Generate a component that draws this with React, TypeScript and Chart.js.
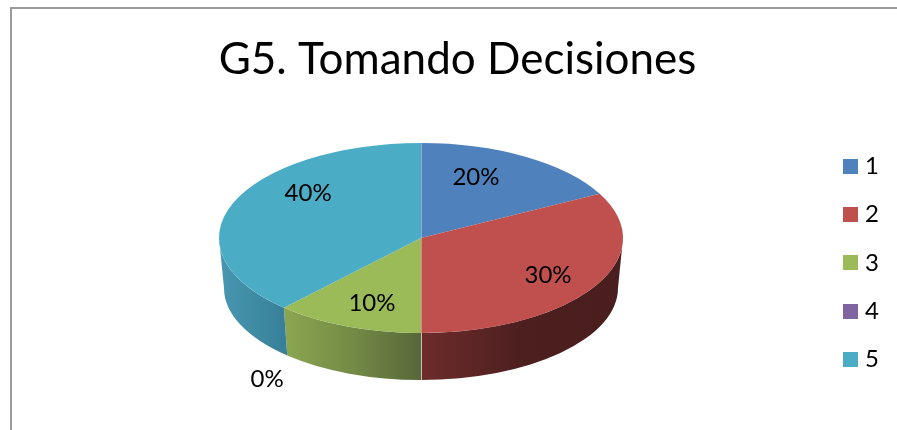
import React, { useEffect, useRef } from "react";
import { Chart, registerables } from "chart.js";

Chart.register(...registerables);

const categories = ["1", "2", "3", "4", "5"];
const shares = [20, 30, 10, 0, 40];
const sliceColors = ["#4F81BD", "#BF504D", "#9BBB59", "#8064A2", "#4BACC6"];
const wallLeftColors = ["#3b5f8c", "#6d2c2b", "#8ba651", "#5f4a79", "#4896b0"];
const wallMidColors = ["#3b5f8c", "#4d1f1f", "#748a45", "#5f4a79", "#408ca5"];
const wallRightColors = ["#3b5f8c", "#4a1e1e", "#56683a", "#5f4a79", "#38809a"];
const chartTitle = "G5. Tomando Decisiones";

// Label anchors, as fractions of the pie's radii from its centre.
const labelAnchors: [number, number][] = [
  [0.272, -0.642],
  [0.629, 0.389],
  [-0.243, 0.684],
  [-0.762, 1.484],
  [-0.559, -0.474],
];

const FONT = "Lato, Carlito, sans-serif";
const CX = 403; // canvas starts 18px in
const CY = 238;
const RX = 202;
const RY = 95;
const BOTTOM_CY = 288;
const BOTTOM_RX = 197;
const BOTTOM_RY = 92;
const PERSPECTIVE = 0.83;
const SWATCH = 15;

// Receding perspective of the tilted disc: tan(t'/2) = k tan(t/2), t measured from 12 o'clock.
const warp = (t: number) => {
  const turns = Math.round(t / (2 * Math.PI));
  const local = t - turns * 2 * Math.PI;
  if (Math.abs(Math.abs(local) - Math.PI) < 1e-9) return t;
  return 2 * Math.atan(PERSPECTIVE * Math.tan(local / 2)) + turns * 2 * Math.PI;
};

const swatch = (color: string) => {
  const c = document.createElement("canvas");
  c.width = SWATCH;
  c.height = SWATCH;
  const g = c.getContext("2d")!;
  g.fillStyle = color;
  g.fillRect(0, 0, SWATCH, SWATCH);
  return c;
};

const pie3d = {
  id: "pie3d",
  afterDatasetsUpdate(chart: any) {
    const meta = chart.getDatasetMeta(0);
    meta.data.forEach((arc: any) => {
      const s = warp(arc.startAngle + Math.PI / 2) - Math.PI / 2;
      const e = warp(arc.endAngle + Math.PI / 2) - Math.PI / 2;
      arc.startAngle = s;
      arc.endAngle = e;
      arc.circumference = e - s;
    });
  },
  beforeDatasetsDraw(chart: any) {
    const { ctx } = chart;
    const arcs = chart.getDatasetMeta(0).data;
    const wall = (from: number, to: number, i: number) => {
      const a = Math.max(from, 0);
      const b = Math.min(to, Math.PI);
      if (b <= a) return;
      const xa = CX + RX * Math.cos(a);
      const xb = CX + RX * Math.cos(b);
      const g = ctx.createLinearGradient(Math.min(xa, xb), 0, Math.max(xa, xb), 0);
      g.addColorStop(0, wallLeftColors[i]);
      g.addColorStop(0.5, wallMidColors[i]);
      g.addColorStop(1, wallRightColors[i]);
      ctx.beginPath();
      ctx.ellipse(CX, CY, RX, RY, 0, a, b, false);
      ctx.ellipse(CX, BOTTOM_CY, BOTTOM_RX, BOTTOM_RY, 0, b, a, true);
      ctx.closePath();
      ctx.fillStyle = g;
      ctx.fill();
    };
    arcs.forEach((arc: any, i: number) => {
      const s = arc.startAngle;
      const e = arc.endAngle;
      wall(s, e, i);
      if (s < Math.PI) return;
      wall(s - 2 * Math.PI, e - 2 * Math.PI, i);
    });
    ctx.save();
    ctx.strokeStyle = "rgba(235,235,225,0.75)";
    ctx.lineWidth = 1;
    ctx.beginPath();
    ctx.moveTo(CX + 0.5, CY + RY);
    ctx.lineTo(CX + 0.5, BOTTOM_CY + BOTTOM_RY);
    ctx.stroke();
    ctx.restore();

    const ref = arcs[0];
    ctx.save();
    ctx.translate(CX, CY);
    ctx.scale(1, RY / RX);
    ctx.translate(-ref.x, -ref.y);
  },
  afterDatasetsDraw(chart: any) {
    const { ctx } = chart;
    ctx.restore();
    ctx.save();
    ctx.strokeStyle = "rgba(255,255,255,0.35)";
    ctx.lineWidth = 1;
    ctx.beginPath();
    ctx.moveTo(CX + 0.5, CY - RY);
    ctx.lineTo(CX + 0.5, CY + RY);
    ctx.stroke();
    ctx.restore();
  },
  afterDraw(chart: any) {
    const { ctx } = chart;
    const total = shares.reduce((a, b) => a + b, 0);
    ctx.save();
    ctx.font = `24px ${FONT}`;
    ctx.fillStyle = "#000";
    ctx.textAlign = "center";
    ctx.textBaseline = "middle";
    shares.forEach((v, i) => {
      const [fx, fy] = labelAnchors[i];
      ctx.fillText(`${Math.round((v / total) * 100)}%`, CX + fx * RX, CY + fy * RY);
    });
    ctx.restore();
  },
};

export default function App() {
  const ref = useRef<HTMLCanvasElement>(null);
  useEffect(() => {
    const chart = new Chart(ref.current!, {
      type: "pie",
      data: {
        labels: categories,
        datasets: [
          {
            data: shares,
            backgroundColor: sliceColors,
            borderWidth: 0,
            radius: RX,
          } as any,
        ],
      },
      options: {
        responsive: false,
        animation: false,
        devicePixelRatio: 1,
        layout: { padding: { right: 8, top: 0, bottom: 0, left: 8 } },
        plugins: {
          tooltip: { enabled: false },
          title: {
            display: true,
            text: chartTitle,
            color: "#000",
            font: { family: FONT, size: 44, weight: "normal" },
            padding: { top: 33, bottom: 10 },
          },
          legend: {
            position: "right",
            fullSize: false,
            labels: {
              usePointStyle: true,
              pointStyleWidth: 5,
              boxHeight: 24,
              padding: 24.2,
              color: "#000",
              font: { family: FONT, size: 24 },
              generateLabels: () =>
                categories.map((text, i) => ({
                  text,
                  fontColor: "#000",
                  pointStyle: swatch(sliceColors[i]),
                  fillStyle: sliceColors[i],
                  strokeStyle: sliceColors[i],
                  lineWidth: 0,
                  hidden: false,
                  index: i,
                })),
            },
          },
        },
      },
      plugins: [pie3d],
    } as any);
    return () => chart.destroy();
  }, []);
  return (
    <div
      style={{
        position: "absolute",
        left: 0,
        top: 0,
        width: 897,
        height: 430,
        overflow: "hidden",
        background: "#fff",
      }}
    >
      <div
        style={{
          position: "absolute",
          left: 10,
          top: 7,
          width: 887,
          height: 423,
          borderTop: "2px solid #9a9a9a",
          borderLeft: "2px solid #9a9a9a",
          boxSizing: "border-box",
        }}
      />
      <canvas
        ref={ref}
        width={879}
        height={430}
        style={{ position: "absolute", left: 18, top: 0, display: "block" }}
      />
    </div>
  );
}
